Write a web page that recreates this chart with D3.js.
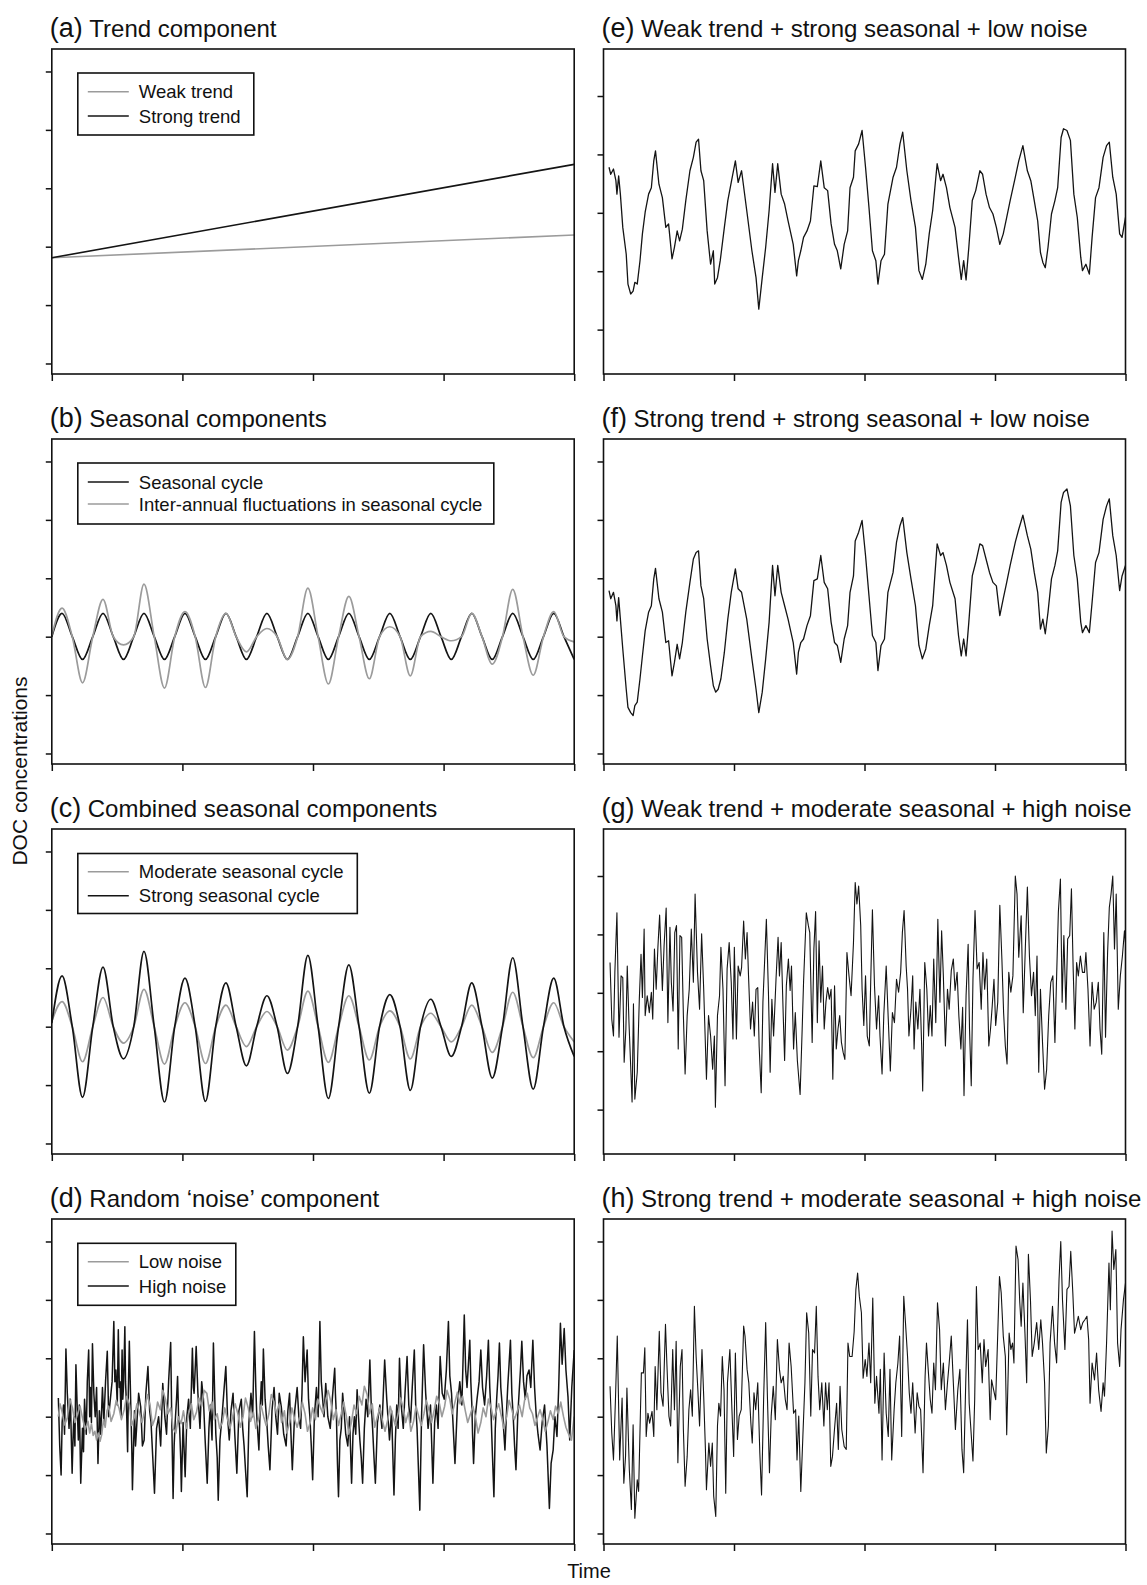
<!DOCTYPE html>
<html><head><meta charset="utf-8">
<script src="https://cdn.jsdelivr.net/npm/d3@7"></script>
<style>
body{margin:0;background:#fff}
svg{display:block}
text{font-family:"Liberation Sans",Arial,Helvetica,sans-serif;fill:#111}
</style>
</head><body>
<svg id="chart" width="1147" height="1585"></svg>
<script>
// ---------------- DATA (time in arbitrary steps 0..1516, concentration in arbitrary units, ticks every 100) --------------
const panelLabels = ["(a)","(b)","(c)","(d)","(e)","(f)","(g)","(h)"];
const panelTitles = ["Trend component","Seasonal components","Combined seasonal components","Random \u2018noise\u2019 component",
  "Weak trend + strong seasonal + low noise","Strong trend + strong seasonal + low noise",
  "Weak trend + moderate seasonal + high noise","Strong trend + moderate seasonal + high noise"];
const xTickValues = [0,379,758,1137,1516];
const yTicksA = [0,100,200,300,400,500];
const yTicksB = [0,100,200,300,400];

const trendWeak = [[0,181],[1516,220]];
const trendStrong = [[0,181],[1516,341]];

// seasonal series sampled each quarter cycle
const seasonalCycle = [200,240,200,161,200,240,200,161,200,240,200,161,200,240,200,161,200,240,200,161,200,240,200,161,200,240,200,161,200,240,200,161,200,240,200,161,200,240,200,161,200,240,200,161,200,240,200,161,200,240,200,161];
const interannualCycle = [202,249,200,121,200,264,200,186,200,290,200,112,200,243,200,113,200,240,200,174,200,214,200,161,200,283,200,119,200,269,200,128,200,217,200,133,200,209,200,193,200,240,200,153,200,281,200,134,200,243,200,191];
const moderateSeasonal = [209,243,200,140,200,250,200,172,200,264,200,136,200,241,200,137,200,237,200,166,200,226,200,160,200,261,200,139,200,253,200,143,200,227,200,145,200,223,200,174,200,237,200,156,200,259,200,147,200,241,200,174];
const strongSeasonal = [206,287,200,79,200,302,200,145,200,329,200,71,200,283,200,72,200,275,200,133,200,253,200,120,200,322,200,77,200,306,200,86,200,255,200,91,200,247,200,149,200,275,200,112,200,318,200,93,200,283,200,149];

const noiseLow = [[19,200],[24,222],[30,208],[37,186],[45,198],[52,230],[60,215],[67,190],[75,205],[82,218],[90,195],[97,178],[105,192],[110,172],[115,188],[120,168],[125,175],[130,160],[135,172],[140,158],[145,170],[150,195],[155,182],[160,210],[165,218],[172,192],[180,205],[187,228],[195,215],[202,195],[210,212],[217,235],[225,222],[232,185],[240,200],[247,222],[255,205],[262,190],[270,212],[277,238],[285,220],[292,185],[300,198],[307,225],[315,212],[322,245],[330,230],[337,205],[345,215],[352,180],[360,172],[367,200],[375,188],[382,210],[390,180],[397,205],[405,222],[412,195],[420,208],[427,232],[435,218],[442,245],[450,240],[457,210],[465,225],[472,195],[480,205],[487,180],[495,190],[502,215],[510,195],[517,180],[525,200],[532,222],[540,205],[547,182],[555,200],[562,232],[570,215],[577,192],[585,208],[592,180],[600,195],[607,220],[615,200],[622,185],[630,205],[637,238],[645,225],[652,205],[660,222],[667,190],[675,210],[682,172],[690,190],[697,215],[705,195],[712,182],[720,200],[727,225],[735,205],[742,175],[750,190],[757,215],[765,195],[772,230],[780,215],[787,205],[795,228],[802,245],[810,225],[817,195],[825,212],[832,185],[840,205],[847,225],[855,200],[862,170],[870,192],[877,220],[885,205],[892,235],[900,220],[907,252],[915,238],[922,205],[930,222],[937,182],[945,200],[952,215],[960,192],[967,175],[975,195],[982,218],[990,200],[997,185],[1005,205],[1012,232],[1020,215],[1027,190],[1035,208],[1042,175],[1050,192],[1057,218],[1065,200],[1072,185],[1080,205],[1087,228],[1095,210],[1102,190],[1110,212],[1117,235],[1125,222],[1132,200],[1140,218],[1147,245],[1155,230],[1162,205],[1170,225],[1177,242],[1185,222],[1192,235],[1200,210],[1207,190],[1215,205],[1222,218],[1230,198],[1237,172],[1245,190],[1252,215],[1260,200],[1267,230],[1275,215],[1282,195],[1290,210],[1297,222],[1305,200],[1312,180],[1320,200],[1327,228],[1335,212],[1342,195],[1350,208],[1357,220],[1365,200],[1372,228],[1380,240],[1387,215],[1395,205],[1402,185],[1410,200],[1417,212],[1425,195],[1432,175],[1440,192],[1447,210],[1455,195],[1462,218],[1470,205],[1477,225],[1485,200],[1492,182],[1500,170],[1508,160],[1512,180],[1516,200]];

const noiseHigh = [[19,232],[23,150],[27,100],[30,190],[34,220],[37,170],[41,316],[45,240],[50,180],[54,230],[59,103],[62,170],[64,200],[67,150],[70,289],[74,210],[77,160],[80,220],[84,86],[89,180],[92,140],[95,230],[100,170],[103,260],[107,314],[110,200],[112,250],[115,190],[118,325],[122,240],[126,200],[130,250],[134,120],[138,210],[142,170],[147,250],[151,190],[156,260],[161,312],[165,200],[170,230],[175,260],[180,363],[183,260],[186,280],[190,220],[193,349],[196,250],[198,260],[201,200],[204,314],[206,230],[208,250],[210,300],[212,354],[214,260],[216,230],[218,190],[220,140],[222,240],[225,329],[228,250],[230,200],[232,150],[234,75],[240,210],[243,150],[246,180],[252,240],[258,217],[263,150],[268,160],[273,240],[279,286],[284,210],[288,190],[293,130],[298,69],[304,180],[310,200],[316,150],[322,257],[328,200],[333,170],[339,260],[345,327],[348,200],[352,60],[355,150],[358,190],[362,230],[365,269],[368,200],[371,180],[374,130],[376,72],[381,190],[387,97],[392,200],[397,230],[402,180],[408,317],[411,250],[413,240],[416,280],[419,320],[424,240],[430,180],[435,260],[440,230],[445,160],[451,86],[456,180],[460,220],[465,160],[469,326],[473,230],[476,170],[480,130],[483,57],[488,160],[494,200],[499,240],[505,286],[510,200],[515,160],[520,210],[526,240],[531,170],[537,103],[543,210],[550,230],[554,180],[558,150],[562,110],[567,63],[572,190],[578,240],[583,200],[588,346],[592,250],[595,200],[598,170],[601,143],[605,220],[608,260],[611,220],[614,316],[619,230],[624,190],[628,150],[633,109],[639,210],[645,250],[650,200],[655,170],[660,240],[666,217],[673,170],[680,150],[685,210],[690,240],[694,170],[698,109],[705,210],[712,250],[717,200],[722,180],[726,240],[730,337],[735,260],[741,314],[745,230],[749,200],[753,150],[757,92],[762,200],[768,250],[773,200],[778,363],[782,260],[786,230],[790,200],[795,257],[801,200],[808,180],[814,230],[821,283],[823,240],[826,200],[829,120],[832,63],[836,160],[840,180],[844,240],[848,211],[853,170],[859,150],[864,200],[870,86],[874,170],[878,200],[882,170],[886,246],[890,200],[894,160],[898,130],[902,86],[907,180],[912,230],[917,200],[923,297],[927,220],[931,180],[935,130],[939,86],[945,190],[952,220],[958,180],[966,297],[972,230],[980,160],[986,210],[993,66],[997,160],[1001,220],[1005,180],[1009,300],[1014,220],[1020,180],[1025,240],[1031,303],[1036,220],[1041,190],[1046,250],[1052,314],[1056,220],[1060,180],[1064,110],[1068,40],[1073,200],[1079,323],[1085,240],[1092,180],[1099,220],[1106,86],[1111,190],[1116,220],[1121,180],[1127,303],[1133,240],[1139,230],[1145,280],[1151,363],[1155,270],[1160,240],[1165,180],[1170,120],[1177,220],[1184,260],[1190,220],[1197,374],[1201,280],[1205,250],[1209,290],[1213,331],[1216,260],[1219,220],[1221,170],[1224,120],[1229,200],[1234,230],[1240,260],[1245,314],[1250,250],[1256,220],[1262,270],[1267,331],[1271,250],[1275,200],[1279,130],[1283,63],[1287,180],[1291,230],[1295,270],[1299,326],[1303,250],[1307,220],[1311,180],[1315,143],[1319,200],[1323,250],[1327,290],[1331,331],[1335,240],[1339,200],[1343,150],[1347,109],[1352,200],[1356,240],[1360,280],[1364,329],[1369,260],[1374,230],[1379,270],[1385,280],[1390,250],[1396,331],[1401,250],[1406,200],[1411,170],[1417,143],[1423,190],[1430,220],[1437,150],[1444,43],[1449,120],[1455,143],[1460,200],[1466,166],[1471,250],[1476,360],[1481,290],[1487,351],[1492,280],[1498,234],[1503,160],[1509,250],[1516,314]];

const seriesE = [[16,278],[21,266],[29,275],[36,255],[39,232],[44,263],[49,232],[56,175],[66,129],[71,78],[79,61],[86,66],[91,81],[98,78],[106,118],[113,164],[121,201],[131,232],[139,243],[146,289],[151,306],[161,249],[171,226],[181,175],[189,181],[199,121],[206,141],[214,169],[221,152],[229,172],[239,221],[251,272],[261,295],[269,321],[276,326],[283,272],[291,255],[301,169],[311,112],[319,135],[323,78],[331,89],[339,118],[351,175],[361,221],[371,252],[383,289],[391,252],[401,272],[416,204],[431,135],[443,89],[451,35],[461,89],[471,141],[481,204],[491,284],[498,235],[506,284],[516,232],[526,215],[536,186],[551,146],[561,92],[566,118],[573,135],[581,158],[591,169],[601,186],[611,246],[621,245],[631,289],[641,243],[651,238],[661,181],[671,146],[679,135],[689,104],[699,146],[709,169],[716,243],[726,261],[731,306],[741,318],[751,341],[761,278],[771,209],[781,135],[791,118],[797,78],[806,118],[816,129],[826,215],[841,261],[851,278],[861,318],[869,338],[881,272],[893,221],[906,175],[916,101],[926,86],[936,112],[946,164],[956,204],[969,284],[979,255],[986,266],[996,243],[1006,209],[1021,175],[1031,124],[1039,86],[1046,118],[1053,85],[1061,141],[1071,221],[1081,238],[1093,272],[1101,266],[1111,232],[1121,209],[1131,198],[1141,175],[1151,146],[1161,164],[1171,192],[1181,221],[1196,261],[1206,289],[1218,315],[1231,272],[1241,255],[1251,221],[1261,186],[1269,132],[1276,115],[1283,106],[1291,141],[1301,198],[1311,221],[1319,243],[1329,329],[1336,344],[1346,341],[1356,324],[1366,232],[1376,192],[1386,124],[1391,101],[1401,112],[1411,95],[1419,158],[1429,226],[1439,243],[1451,295],[1461,315],[1469,321],[1479,261],[1489,232],[1499,164],[1506,158],[1516,192]];

const seriesF = [[16,279],[21,265],[29,276],[36,253],[39,227],[44,267],[49,230],[56,179],[66,110],[71,79],[79,70],[86,65],[91,82],[98,88],[106,128],[113,167],[121,210],[131,242],[139,253],[146,299],[151,317],[161,265],[171,242],[181,190],[189,193],[199,133],[206,156],[214,187],[221,162],[229,190],[239,242],[251,293],[261,333],[269,344],[276,347],[283,287],[291,265],[301,196],[311,150],[319,116],[326,105],[333,110],[341,128],[351,173],[361,230],[371,276],[383,316],[391,282],[401,276],[416,230],[431,162],[443,110],[451,70],[461,105],[471,162],[481,225],[491,322],[498,270],[506,322],[516,276],[526,253],[536,230],[551,190],[561,136],[566,173],[573,190],[581,196],[591,219],[601,236],[611,296],[621,299],[631,339],[641,293],[651,282],[661,225],[671,190],[679,185],[689,156],[699,196],[709,219],[716,276],[726,304],[731,364],[741,379],[751,399],[761,339],[771,270],[781,202],[791,190],[797,142],[806,185],[816,196],[826,276],[841,310],[851,362],[861,390],[869,404],[881,344],[893,299],[906,253],[916,185],[926,162],[936,179],[946,219],[956,253],[969,359],[979,339],[986,344],[996,322],[1006,293],[1021,265],[1031,202],[1039,167],[1046,196],[1053,167],[1061,225],[1071,304],[1081,327],[1093,359],[1101,356],[1111,333],[1121,310],[1131,293],[1141,287],[1151,236],[1161,265],[1171,293],[1181,322],[1196,362],[1206,384],[1218,408],[1231,373],[1241,350],[1251,310],[1261,276],[1269,213],[1276,230],[1283,205],[1291,242],[1301,299],[1311,322],[1319,347],[1329,430],[1336,447],[1346,453],[1356,424],[1366,339],[1376,299],[1386,225],[1391,207],[1401,219],[1411,207],[1419,259],[1429,327],[1439,344],[1451,401],[1461,424],[1469,436],[1479,373],[1489,339],[1499,279],[1506,304],[1516,322]];

const seriesG = [[19,252],[24,155],[29,126],[33,235],[39,337],[45,124],[51,229],[56,226],[60,81],[65,138],[69,246],[74,149],[83,13],[87,181],[91,18],[98,64],[104,189],[109,266],[113,192],[118,309],[121,161],[127,195],[133,166],[139,201],[143,155],[148,275],[153,206],[158,278],[163,333],[171,204],[176,281],[182,345],[187,149],[193,312],[197,218],[202,169],[207,303],[212,315],[217,104],[222,298],[227,295],[232,161],[237,61],[243,161],[249,206],[255,309],[261,218],[266,369],[273,235],[279,172],[285,301],[291,206],[299,52],[305,161],[311,126],[317,69],[322,126],[325,4],[331,161],[337,195],[341,278],[347,206],[353,41],[359,241],[365,286],[371,218],[376,121],[380,278],[386,121],[391,246],[397,229],[401,243],[407,323],[412,258],[417,303],[421,232],[427,138],[433,184],[438,126],[443,206],[448,209],[452,109],[458,29],[463,184],[469,269],[473,326],[479,201],[484,64],[489,189],[494,126],[501,223],[507,295],[511,229],[516,286],[522,161],[526,84],[531,212],[537,258],[542,204],[546,246],[552,104],[557,166],[563,84],[571,26],[577,138],[581,218],[589,337],[595,315],[599,303],[606,115],[611,275],[616,339],[621,149],[626,289],[631,184],[636,246],[641,138],[646,184],[651,209],[656,189],[661,206],[666,52],[671,212],[676,104],[681,138],[686,161],[691,115],[696,98],[701,86],[707,269],[713,229],[719,195],[726,286],[731,389],[736,352],[741,383],[747,315],[751,206],[756,144],[761,229],[766,126],[772,109],[776,218],[781,342],[787,212],[793,138],[799,195],[803,126],[809,61],[814,161],[821,246],[827,155],[833,66],[839,166],[845,149],[851,223],[857,201],[863,235],[868,303],[873,341],[879,246],[883,206],[887,126],[893,172],[898,229],[902,104],[907,184],[913,138],[919,206],[924,109],[927,32],[933,252],[939,206],[944,126],[949,178],[954,126],[959,258],[965,149],[971,326],[977,184],[982,306],[987,229],[993,109],[999,206],[1004,172],[1010,238],[1016,258],[1021,204],[1027,235],[1032,161],[1038,104],[1043,175],[1047,24],[1053,195],[1059,283],[1063,138],[1068,41],[1073,223],[1079,341],[1085,241],[1091,252],[1097,172],[1102,269],[1107,206],[1113,258],[1119,109],[1124,138],[1129,178],[1134,223],[1139,144],[1145,184],[1151,350],[1157,258],[1162,166],[1167,109],[1172,78],[1177,235],[1183,201],[1189,229],[1196,400],[1201,369],[1206,261],[1213,332],[1219,166],[1225,275],[1231,381],[1237,263],[1243,195],[1249,235],[1254,161],[1259,263],[1264,64],[1269,206],[1275,115],[1281,35],[1287,69],[1293,161],[1299,218],[1305,229],[1311,115],[1316,229],[1321,338],[1327,395],[1332,184],[1337,298],[1343,172],[1348,292],[1354,298],[1359,378],[1364,241],[1369,138],[1374,252],[1379,229],[1385,263],[1391,235],[1397,235],[1401,269],[1407,206],[1413,109],[1419,218],[1425,172],[1431,184],[1437,218],[1442,138],[1447,95],[1453,303],[1458,124],[1464,269],[1469,346],[1474,369],[1479,400],[1484,275],[1489,369],[1495,172],[1501,229],[1507,263],[1513,306],[1516,286]];

const seriesH = [[19,252],[24,172],[29,126],[35,235],[40,338],[47,126],[54,232],[59,86],[64,132],[68,249],[75,109],[81,41],[86,186],[91,26],[98,92],[102,72],[107,201],[110,275],[116,275],[120,318],[124,166],[129,206],[134,189],[141,209],[146,166],[150,286],[155,212],[162,346],[167,241],[173,218],[180,358],[184,292],[190,201],[195,184],[201,315],[206,212],[211,329],[216,121],[223,286],[228,315],[232,178],[237,81],[243,132],[248,212],[253,246],[258,201],[264,389],[269,303],[274,246],[279,184],[286,315],[291,235],[296,144],[299,75],[306,155],[311,115],[316,155],[320,64],[326,29],[331,184],[335,223],[340,201],[345,303],[350,246],[355,69],[360,258],[367,315],[373,212],[378,132],[383,309],[389,161],[394,201],[400,212],[407,355],[411,338],[417,281],[422,258],[428,189],[432,155],[437,241],[442,212],[448,258],[454,138],[459,66],[465,229],[471,361],[476,235],[482,104],[487,201],[493,252],[499,195],[505,332],[511,281],[516,258],[522,269],[528,229],[533,212],[539,326],[545,286],[552,206],[558,212],[562,126],[567,201],[573,72],[579,166],[585,258],[590,378],[596,343],[602,201],[607,315],[613,309],[618,389],[623,269],[628,212],[634,258],[640,184],[645,258],[650,212],[655,258],[660,115],[665,132],[670,172],[677,223],[682,144],[687,252],[692,178],[699,149],[705,144],[710,326],[715,303],[722,303],[728,346],[733,418],[738,446],[743,406],[749,378],[754,266],[760,298],[765,269],[771,326],[776,258],[782,403],[788,223],[793,269],[800,206],[804,281],[809,126],[815,309],[821,206],[827,166],[832,281],[837,126],[844,212],[849,258],[855,292],[860,338],[866,166],[872,406],[877,361],[883,303],[888,241],[893,206],[898,258],[905,172],[911,241],[916,218],[921,212],[928,104],[934,269],[938,326],[943,281],[949,229],[954,206],[959,292],[964,246],[970,395],[976,349],[981,246],[987,292],[993,212],[999,258],[1004,292],[1010,338],[1016,258],[1022,178],[1029,246],[1035,281],[1041,144],[1046,104],[1052,258],[1057,366],[1062,223],[1067,178],[1073,124],[1078,229],[1083,423],[1088,315],[1094,326],[1100,258],[1105,332],[1110,286],[1117,315],[1123,195],[1127,263],[1133,246],[1139,229],[1145,343],[1150,440],[1155,412],[1161,338],[1167,303],[1171,169],[1178,343],[1183,315],[1188,326],[1192,292],[1198,492],[1204,469],[1209,395],[1213,355],[1218,429],[1224,343],[1229,258],[1234,478],[1240,400],[1245,303],[1251,326],[1258,361],[1264,315],[1270,366],[1275,326],[1281,258],[1286,138],[1292,184],[1297,326],[1304,389],[1310,326],[1316,292],[1323,435],[1328,500],[1333,400],[1340,315],[1346,418],[1352,423],[1357,483],[1363,412],[1368,343],[1373,355],[1379,372],[1386,349],[1392,361],[1398,366],[1404,372],[1409,332],[1413,223],[1419,292],[1426,263],[1432,309],[1438,246],[1445,209],[1451,258],[1455,235],[1461,326],[1468,463],[1472,383],[1477,518],[1482,452],[1488,486],[1493,326],[1499,286],[1503,349],[1510,400],[1516,429]];

// ---------------- DRAWING ----------------
const BLACK = "#141414", GRAY = "#9b9b9b";
const seasonTime = d3.range(52).map(k => k * 1516 / 51);
const toPairs = arr => arr.map((v, i) => [seasonTime[i], v]);

const svg = d3.select("#chart");
const cols = [{x: 51.8, w: 522.4}, {x: 603.5, w: 522}];
const rowTops = [49, 439, 829, 1219];
const PH = 325;
const layouts = {
  A: {domain: [-18, 538.5], ticks: yTicksA},
  B: {domain: [-76, 480.5], ticks: yTicksB}
};

const panels = [
  {col:0,row:0,layout:"A",
   series:[{d:trendWeak,c:GRAY,w:1.6},{d:trendStrong,c:BLACK,w:1.6}],
   legend:{items:[["Weak trend",GRAY],["Strong trend",BLACK]],w:176,top:24,h:62,rows:[42.7,67]}},
  {col:0,row:1,layout:"A",curve:d3.curveMonotoneX,
   series:[{d:toPairs(seasonalCycle),c:BLACK,w:1.7},{d:toPairs(interannualCycle),c:GRAY,w:1.7}],
   legend:{items:[["Seasonal cycle",BLACK],["Inter-annual fluctuations in seasonal cycle",GRAY]],w:416,top:24,h:61,rows:[43,65]}},
  {col:0,row:2,layout:"A",curve:d3.curveMonotoneX,
   series:[{d:toPairs(moderateSeasonal),c:GRAY,w:1.7},{d:toPairs(strongSeasonal),c:BLACK,w:1.7}],
   legend:{items:[["Moderate seasonal cycle",GRAY],["Strong seasonal cycle",BLACK]],w:279.5,top:24.5,h:60,rows:[42.7,66.7]}},
  {col:0,row:3,layout:"A",
   series:[{d:noiseHigh,c:BLACK,w:1.5},{d:noiseLow,c:GRAY,w:1.6}],
   legend:{items:[["Low noise",GRAY],["High noise",BLACK]],w:158,top:24.3,h:62,rows:[42.7,67]}},
  {col:1,row:0,layout:"B",series:[{d:seriesE,c:BLACK,w:1.3}]},
  {col:1,row:1,layout:"A",series:[{d:seriesF,c:BLACK,w:1.3}]},
  {col:1,row:2,layout:"B",series:[{d:seriesG,c:BLACK,w:1.1}]},
  {col:1,row:3,layout:"A",series:[{d:seriesH,c:BLACK,w:1.1}]}
];

panels.forEach((p, i) => {
  const col = cols[p.col], top = rowTops[p.row];
  const L = layouts[p.layout];
  const x = d3.scaleLinear().domain([0, 1516]).range([col.x, col.x + col.w]);
  const y = d3.scaleLinear().domain(L.domain).range([top + PH, top]);
  const g = svg.append("g");

  const cid = "clip" + i;
  svg.append("clipPath").attr("id", cid).append("rect")
    .attr("x", col.x).attr("y", top).attr("width", col.w).attr("height", PH);

  // title
  const t = g.append("text").attr("x", col.x - 2).attr("y", top - 12);
  t.append("tspan").attr("font-size", 27).text(panelLabels[i]);
  t.append("tspan").attr("font-size", 24).attr("dx", 6.5).text(panelTitles[i]);

  // series
  const line = d3.line().x(d => x(d[0])).y(d => y(d[1])).curve(p.curve || d3.curveLinear);
  const sg = g.append("g").attr("clip-path", `url(#${cid})`);
  p.series.forEach(s => {
    sg.append("path").datum(s.d).attr("d", line)
      .attr("fill", "none").attr("stroke", s.c).attr("stroke-width", s.w)
      .attr("stroke-linejoin", "round");
  });

  // axes
  const ya = g.append("g").attr("transform", `translate(${col.x},0)`)
    .call(d3.axisLeft(y).tickValues(L.ticks).tickSize(6).tickFormat(""));
  const xa = g.append("g").attr("transform", `translate(0,${top + PH})`)
    .call(d3.axisBottom(x).tickValues(xTickValues).tickSize(7).tickFormat(""));
  [ya, xa].forEach(a => {
    a.select(".domain").remove();
    a.selectAll("line").attr("stroke", "#111").attr("stroke-width", 1.5);
  });

  // frame
  g.append("rect").attr("x", col.x).attr("y", top).attr("width", col.w).attr("height", PH)
    .attr("fill", "none").attr("stroke", "#111").attr("stroke-width", 1.6);

  // legend
  if (p.legend) {
    const lg = p.legend, bx = col.x + 26, by = top + lg.top;
    g.append("rect").attr("x", bx).attr("y", by).attr("width", lg.w).attr("height", lg.h)
      .attr("fill", "#fff").attr("stroke", "#111").attr("stroke-width", 1.6);
    lg.items.forEach((it, k) => {
      const ry = top + lg.rows[k];
      g.append("line").attr("x1", bx + 10).attr("x2", bx + 51).attr("y1", ry).attr("y2", ry)
        .attr("stroke", it[1]).attr("stroke-width", 1.6);
      g.append("text").attr("x", bx + 61).attr("y", ry + 6.5).attr("font-size", 18.5).text(it[0]);
    });
  }
});

// global axis labels
svg.append("text").attr("x", 589).attr("y", 1578).attr("text-anchor", "middle")
  .attr("font-size", 20).text("Time");
svg.append("text").attr("transform", "translate(27,771) rotate(-90)").attr("text-anchor", "middle")
  .attr("font-size", 21).text("DOC concentrations");
</script>
</body></html>
